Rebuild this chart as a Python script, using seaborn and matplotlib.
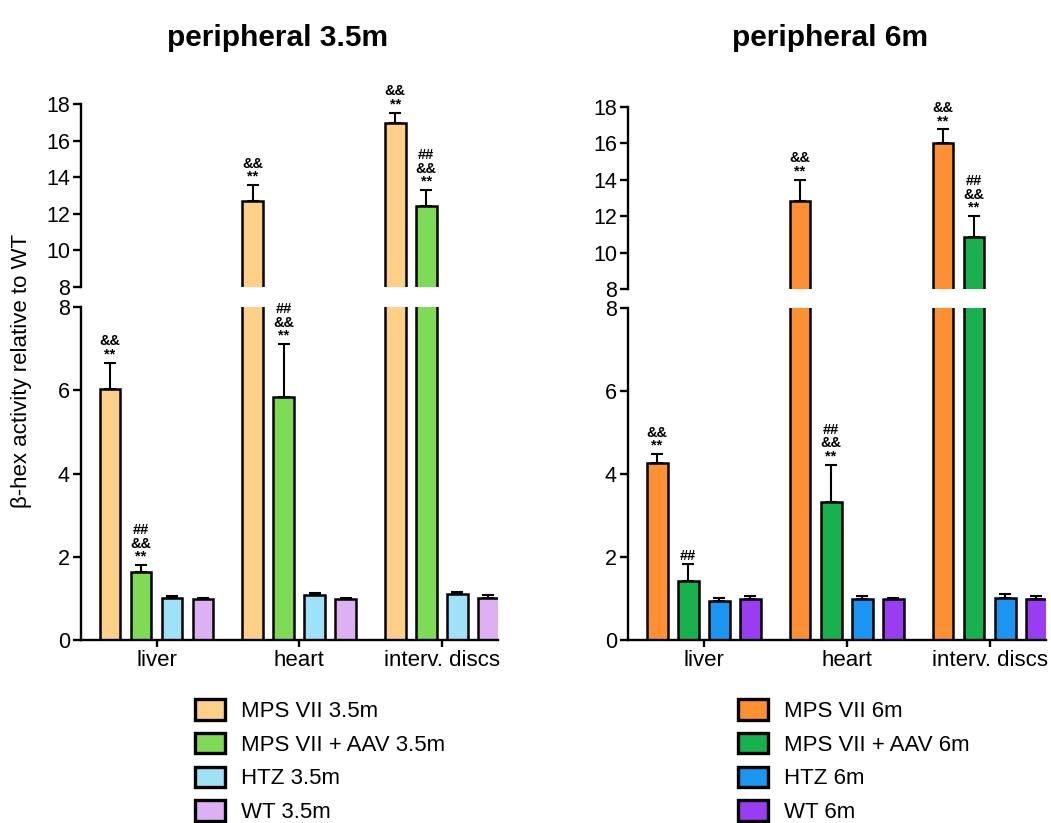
import numpy as np
import pandas as pd
import matplotlib
matplotlib.use("Agg")
import matplotlib.pyplot as plt
from matplotlib.patches import Patch
from matplotlib.container import BarContainer
import seaborn as sns

# ---- data -------------------------------------------------------------
tissues = ["liver", "heart", "interv. discs"]

groups_35 = ["MPS VII 3.5m", "MPS VII + AAV 3.5m", "HTZ 3.5m", "WT 3.5m"]
groups_6 = ["MPS VII 6m", "MPS VII + AAV 6m", "HTZ 6m", "WT 6m"]

colors_35 = ["#FECF86", "#7DDB55", "#9EE2F7", "#DDB0F3"]
colors_6 = ["#FF8F33", "#17B24E", "#1A96F2", "#9A3DF2"]

# mean values per group (rows) and tissue (columns)
mean_35 = [
    [6.02, 12.70, 16.98],   # MPS VII
    [1.64, 5.83, 12.43],    # MPS VII + AAV
    [1.02, 1.08, 1.10],     # HTZ
    [0.99, 0.99, 1.00],     # WT
]
sem_35 = [
    [0.64, 0.87, 0.54],
    [0.16, 1.28, 0.87],
    [0.03, 0.06, 0.05],
    [0.03, 0.02, 0.08],
]
mean_6 = [
    [4.26, 12.84, 16.02],
    [1.43, 3.32, 10.84],
    [0.95, 0.99, 1.02],
    [0.99, 0.99, 0.99],
]
sem_6 = [
    [0.22, 1.15, 0.75],
    [0.39, 0.90, 1.17],
    [0.07, 0.06, 0.10],
    [0.06, 0.02, 0.06],
]

# significance marks (same layout as the value arrays)
marks_35 = [
    ["&&\n**", "&&\n**", "&&\n**"],
    ["##\n&&\n**", "##\n&&\n**", "##\n&&\n**"],
    ["", "", ""],
    ["", "", ""],
]
marks_6 = [
    ["&&\n**", "&&\n**", "&&\n**"],
    ["##", "##\n&&\n**", "##\n&&\n**"],
    ["", "", ""],
    ["", "", ""],
]

titles = ["peripheral 3.5m", "peripheral 6m"]
ylabel = "β-hex activity relative to WT"
lower_ticks = [0, 2, 4, 6, 8]
upper_ticks = [8, 10, 12, 14, 16, 18]
BREAK = 8

# ---- style ------------------------------------------------------------
sns.set_theme(style="ticks")
plt.rcParams["font.family"] = ["Liberation Sans", "DejaVu Sans"]
plt.rcParams["axes.linewidth"] = 1.7
plt.rcParams["text.color"] = "black"
plt.rcParams["axes.labelcolor"] = "black"
plt.rcParams["xtick.color"] = "black"
plt.rcParams["ytick.color"] = "black"
plt.rcParams["axes.edgecolor"] = "black"

W, H = 1051, 823
fig = plt.figure(figsize=(W / 100, H / 100), dpi=100)


def frac_rect(x0, x1, ytop, ybot):
    return [x0 / W, 1 - ybot / H, (x1 - x0) / W, (ybot - ytop) / H]


panels = [
    dict(groups=groups_35, colors=colors_35, mean=mean_35, sem=sem_35, marks=marks_35,
         lower=frac_rect(81, 498, 307, 640), upper=frac_rect(81, 498, 104, 287),
         title_x=278, legend_x=195),
    dict(groups=groups_6, colors=colors_6, mean=mean_6, sem=sem_6, marks=marks_6,
         lower=frac_rect(628, 1046, 308, 640), upper=frac_rect(628, 1046, 107, 289),
         title_x=830, legend_x=738),
]

XLIM = (-0.53, 2.395)

for p, title in zip(panels, titles):
    rows = []
    for g, vals in zip(p["groups"], p["mean"]):
        for t, v in zip(tissues, vals):
            rows.append({"tissue": t, "group": g, "value": v})
    df = pd.DataFrame(rows)

    ax_lo = fig.add_axes(p["lower"])
    ax_hi = fig.add_axes(p["upper"])
    bar_sets = {}

    for ax in (ax_lo, ax_hi):
        sns.barplot(data=df, x="tissue", y="value", hue="group",
                    order=tissues, hue_order=p["groups"], palette=p["colors"],
                    edgecolor="black", linewidth=1.8, errorbar=None,
                    width=0.87, gap=0.33, legend=False, saturation=1, ax=ax)
        bars = [c for c in ax.containers if isinstance(c, BarContainer)]
        bar_sets[ax] = bars
        ax.set_xlim(*XLIM)
        ax.set_xlabel("")
        ax.set_ylabel("")
        for side in ("top", "right"):
            ax.spines[side].set_visible(False)
        ax.tick_params(axis="y", direction="out", length=6, width=1.7,
                       labelsize=15.5, pad=2, colors="black")
        ax.tick_params(axis="x", direction="out", length=5, width=1.7,
                       labelsize=16, pad=2, colors="black")

        # upward-only error bars
        for gi, cont in enumerate(bars):
            for ti, bar in enumerate(cont):
                xc = bar.get_x() + bar.get_width() / 2
                m = p["mean"][gi][ti]
                e = p["sem"][gi][ti]
                ax.errorbar([xc], [m], yerr=[[0], [e]], fmt="none",
                            ecolor="black", elinewidth=1.5, capsize=4,
                            capthick=1.5, zorder=3)

    ax_lo.set_ylim(0, BREAK)
    ax_lo.set_yticks(lower_ticks)
    ax_hi.set_ylim(BREAK, 18)
    ax_hi.set_yticks(upper_ticks)
    ax_hi.spines["bottom"].set_visible(False)
    ax_hi.set_xticks([])

    # significance marks above error bars
    for gi, cont in enumerate(bar_sets[ax_lo]):
        for ti, bar in enumerate(cont):
            txt = p["marks"][gi][ti]
            if not txt:
                continue
            xc = bar.get_x() + bar.get_width() / 2
            top = p["mean"][gi][ti] + p["sem"][gi][ti]
            target = ax_hi if top > BREAK else ax_lo
            target.annotate(txt, xy=(xc, top), xytext=(0, 1.0),
                            textcoords="offset points", ha="center", va="bottom",
                            fontsize=10.5, fontweight="bold", linespacing=0.92,
                            color="black", annotation_clip=False)

    fig.text(p["title_x"] / W, 1 - 38 / H, title, ha="center", va="center",
             fontsize=21.5, fontweight="bold", color="black")

    handles = [Patch(facecolor=c, edgecolor="black", linewidth=2.4, label=g)
               for g, c in zip(p["groups"], p["colors"])]
    leg = fig.legend(handles=handles, loc="upper left",
                     bbox_to_anchor=(p["legend_x"] / W, 1 - 699 / H),
                     frameon=False, fontsize=16, borderpad=0, borderaxespad=0,
                     handlelength=1.35, handleheight=1.05, handletextpad=0.72,
                     labelspacing=0.49)
    for t in leg.get_texts():
        t.set_color("black")

fig.text(22 / W, 1 - 371 / H, ylabel, rotation=90, ha="center", va="center",
         fontsize=16, color="black")

fig.savefig("out.png", dpi=100)
